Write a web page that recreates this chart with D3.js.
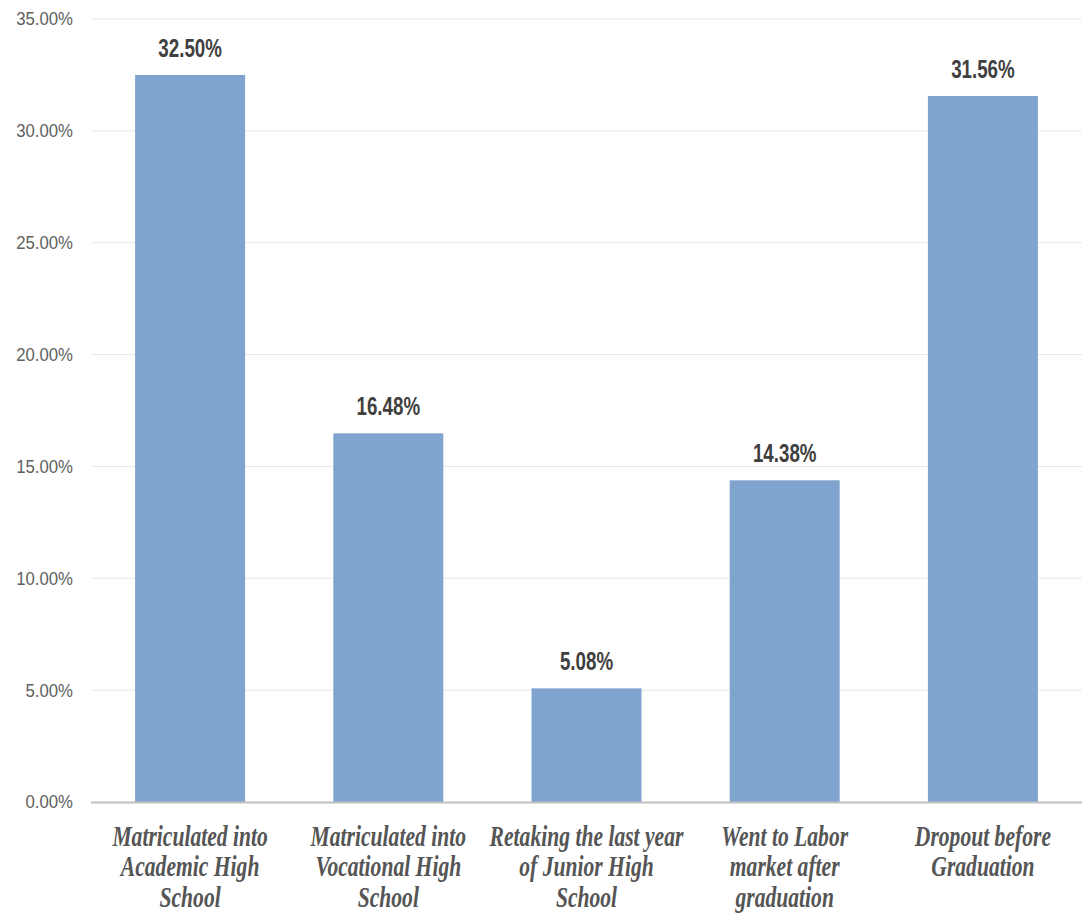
<!DOCTYPE html>
<html>
<head>
<meta charset="utf-8">
<script src="https://cdn.jsdelivr.net/npm/d3@7"></script>
<style>
  html, body { margin: 0; padding: 0; background: #fff; }
  svg { display: block; }
</style>
</head>
<body>
<svg id="chart" width="1084" height="914"></svg>
<script>
const categories = [
  "Matriculated into\nAcademic High\nSchool",
  "Matriculated into\nVocational High\nSchool",
  "Retaking the last year\nof Junior High\nSchool",
  "Went to Labor\nmarket after\ngraduation",
  "Dropout before\nGraduation"
];
const values = [32.50, 16.48, 5.08, 14.38, 31.56];
const yTicks = [0, 5, 10, 15, 20, 25, 30, 35];

const svg = d3.select("#chart");
const margin = { left: 91, right: 2, top: 19, bottom: 112 };
const W = 1084, H = 914;

const x = d3.scaleBand()
  .domain(categories)
  .range([margin.left, W - margin.right])
  .paddingInner(0.445)
  .paddingOuter(0.2225);

const y = d3.scaleLinear()
  .domain([0, 35])
  .range([H - margin.bottom, margin.top]);

// gridlines
svg.append("g")
  .selectAll("line")
  .data(yTicks.filter(d => d > 0))
  .join("line")
  .attr("x1", margin.left)
  .attr("x2", W - margin.right)
  .attr("y1", d => y(d))
  .attr("y2", d => y(d))
  .attr("stroke", "#e8e8e8")
  .attr("stroke-width", 1);

// y tick labels
svg.append("g")
  .selectAll("text")
  .data(yTicks)
  .join("text")
  .attr("transform", d => `translate(73,${y(d)}) scale(0.93,1)`)
  .attr("dy", "0.36em")
  .attr("text-anchor", "end")
  .attr("font-family", "Liberation Sans, Arial, sans-serif")
  .attr("font-size", 18)
  .attr("fill", "#606060")
  .text(d => d.toFixed(2) + "%");

// bars
svg.append("g")
  .selectAll("rect")
  .data(values)
  .join("rect")
  .attr("x", (d, i) => x(categories[i]))
  .attr("width", x.bandwidth())
  .attr("y", d => y(d))
  .attr("height", d => y(0) - y(d))
  .attr("fill", "#7fa4ce");

// axis line
svg.append("line")
  .attr("x1", margin.left)
  .attr("x2", W - margin.right)
  .attr("y1", y(0) + 0.5)
  .attr("y2", y(0) + 0.5)
  .attr("stroke", "#bfbfbf")
  .attr("stroke-width", 2);

// value labels
svg.append("g")
  .selectAll("text")
  .data(values)
  .join("text")
  .attr("transform", (d, i) => `translate(${x(categories[i]) + x.bandwidth() / 2},${y(d) - 18}) scale(0.75,1)`)
  .attr("text-anchor", "middle")
  .attr("font-family", "Liberation Sans, Arial, sans-serif")
  .attr("font-weight", "bold")
  .attr("font-size", 25)
  .attr("fill", "#404040")
  .text(d => d.toFixed(2) + "%");

// category labels
const catG = svg.append("g");
categories.forEach((c, i) => {
  const cx = x(c) + x.bandwidth() / 2;
  const lines = c.split("\n");
  const t = catG.append("text")
    .attr("transform", `translate(${cx},845.5) scale(0.745,1)`)
    .attr("text-anchor", "middle")
    .attr("font-family", "Liberation Serif, Times New Roman, serif")
    .attr("font-style", "italic")
    .attr("font-weight", "bold")
    .attr("font-size", 29)
    .attr("fill", "#555555");
  lines.forEach((ln, j) => {
    t.append("tspan")
      .attr("x", 0)
      .attr("y", j * 30.7)
      .text(ln);
  });
});
</script>
</body>
</html>
